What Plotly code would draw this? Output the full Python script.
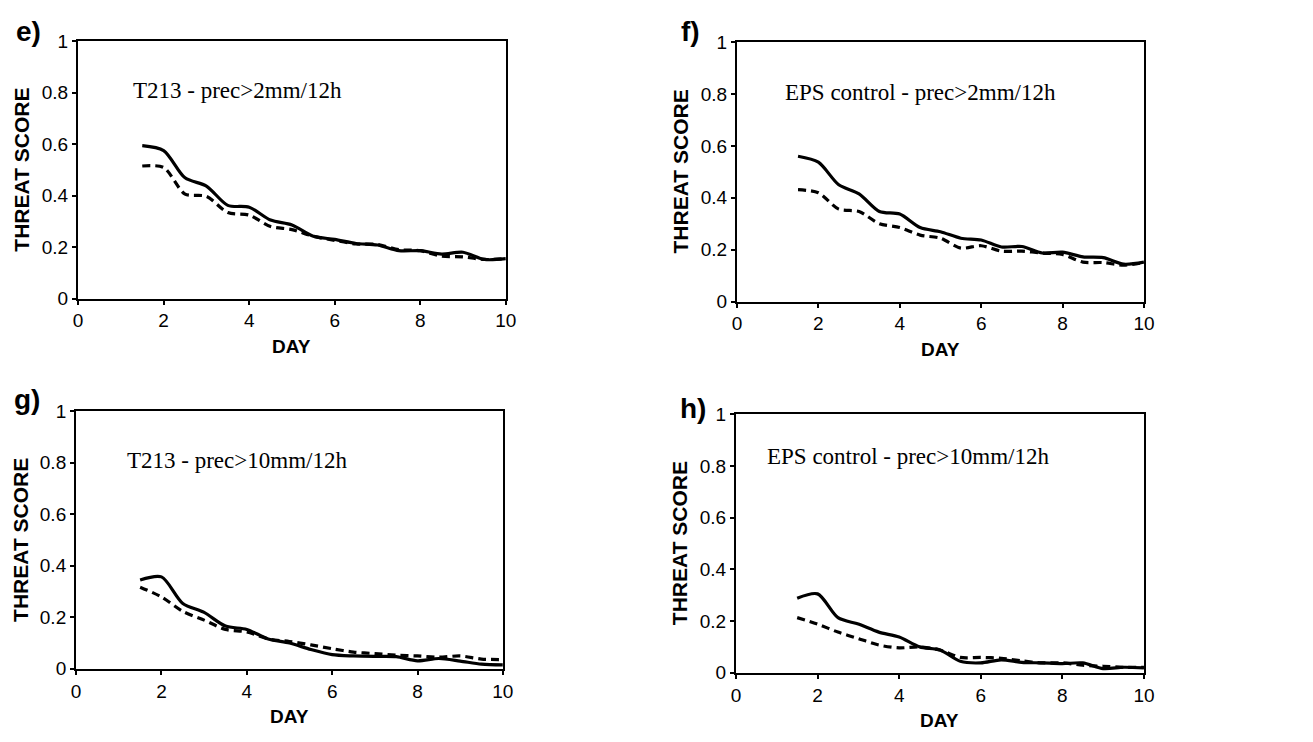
import plotly.graph_objects as go

days = [1.5, 2.0, 2.5, 3.0, 3.5, 4.0, 4.5, 5.0, 5.5, 6.0, 6.5, 7.0, 7.5, 8.0, 8.5, 9.0, 9.5, 10.0]

e_solid = [0.594, 0.575, 0.469, 0.437, 0.362, 0.355, 0.305, 0.286, 0.242, 0.230, 0.214, 0.208, 0.186, 0.186, 0.173, 0.180, 0.152, 0.155]
e_dash = [0.515, 0.509, 0.406, 0.397, 0.334, 0.324, 0.280, 0.268, 0.242, 0.226, 0.212, 0.210, 0.190, 0.186, 0.165, 0.162, 0.152, 0.155]

f_solid = [0.560, 0.537, 0.450, 0.415, 0.347, 0.337, 0.285, 0.269, 0.244, 0.237, 0.210, 0.212, 0.187, 0.190, 0.172, 0.169, 0.144, 0.152]
f_dash = [0.431, 0.419, 0.356, 0.347, 0.300, 0.285, 0.256, 0.244, 0.206, 0.215, 0.194, 0.194, 0.187, 0.181, 0.152, 0.150, 0.140, 0.150]

g_solid = [0.345, 0.357, 0.254, 0.219, 0.166, 0.153, 0.116, 0.100, 0.075, 0.055, 0.050, 0.048, 0.047, 0.031, 0.040, 0.030, 0.018, 0.015]
g_dash = [0.317, 0.279, 0.223, 0.189, 0.153, 0.143, 0.116, 0.106, 0.093, 0.078, 0.065, 0.059, 0.053, 0.050, 0.045, 0.050, 0.038, 0.036]

h_solid = [0.288, 0.305, 0.213, 0.188, 0.157, 0.138, 0.100, 0.088, 0.044, 0.038, 0.050, 0.040, 0.038, 0.035, 0.038, 0.016, 0.021, 0.019]
h_dash = [0.213, 0.188, 0.157, 0.132, 0.107, 0.096, 0.100, 0.088, 0.059, 0.059, 0.056, 0.046, 0.038, 0.038, 0.029, 0.025, 0.021, 0.021]

panel_letters = ["e)", "f)", "g)", "h)"]
panel_texts = ["T213 - prec>2mm/12h", "EPS control - prec>2mm/12h",
               "T213 - prec>10mm/12h", "EPS control - prec>10mm/12h"]
x_ticks = [0, 2, 4, 6, 8, 10]
y_ticks = [0, 0.2, 0.4, 0.6, 0.8, 1]
x_title = "DAY"
y_title = "THREAT SCORE"

W, H = 1313, 742

# plot areas in pixels (left, right, top, bottom)
boxes = [
    (74, 507, 32, 297),
    (741, 1153, 33, 300),
    (72, 504, 413, 678),
    (740, 1153, 416, 682),
]
text_pos = [(1.24, 0.81), (1.12, 0.805), (1.14, 0.81), (0.70, 0.835)]
letter_pos = [(24, 22), (694, 22), (22, 401), (696, 410)]

series = [(e_solid, e_dash), (f_solid, f_dash), (g_solid, g_dash), (h_solid, h_dash)]

SANS = "Liberation Sans, Arial, Helvetica, sans-serif"
SERIF = "Liberation Serif, Times New Roman, serif"

fig = go.Figure()
annotations = []
for i, (box, (sol, dsh)) in enumerate(zip(boxes, series)):
    l, r, t, b = box
    xa = "x" if i == 0 else f"x{i+1}"
    ya = "y" if i == 0 else f"y{i+1}"
    xk = "xaxis" if i == 0 else f"xaxis{i+1}"
    yk = "yaxis" if i == 0 else f"yaxis{i+1}"
    fig.add_trace(go.Scatter(x=days, y=dsh, mode="lines", xaxis=xa, yaxis=ya,
                             line=dict(color="black", width=3.2, dash="8px,5px", shape="spline", smoothing=0.8),
                             showlegend=False, hoverinfo="skip"))
    fig.add_trace(go.Scatter(x=days, y=sol, mode="lines", xaxis=xa, yaxis=ya,
                             line=dict(color="black", width=3.2, shape="spline", smoothing=0.8),
                             showlegend=False, hoverinfo="skip"))
    common = dict(showgrid=False, zeroline=False, showline=True, linecolor="black", linewidth=2.2,
                  mirror=True, ticks="outside", ticklen=4, tickwidth=1.5, tickcolor="black",
                  tickfont=dict(family=SANS, size=19, color="black"))
    fig.update_layout({
        xk: dict(domain=[l / W, r / W], anchor=ya, range=[0, 10], tickvals=x_ticks, **common),
        yk: dict(domain=[1 - b / H, 1 - t / H], anchor=xa, range=[0, 1], tickvals=y_ticks, **common),
    })
    # in-panel label
    annotations.append(dict(x=text_pos[i][0], y=text_pos[i][1], xref=xa, yref=ya,
                            text=panel_texts[i], showarrow=False, xanchor="left", yanchor="middle",
                            font=dict(family=SERIF, size=23, color="black")))
    # panel letter
    annotations.append(dict(x=letter_pos[i][0] / W, y=1 - letter_pos[i][1] / H, xref="paper", yref="paper",
                            text=f"<b>{panel_letters[i]}</b>", showarrow=False, xanchor="center", yanchor="middle",
                            font=dict(family=SANS, size=28, color="black")))
    # x title
    annotations.append(dict(x=(l + r) / 2 / W, y=1 - (b + 49) / H, xref="paper", yref="paper",
                            text=f"<b>{x_title}</b>", showarrow=False, xanchor="center", yanchor="middle",
                            font=dict(family=SANS, size=19, color="black")))
    # y title
    annotations.append(dict(x=(l - 57) / W, y=1 - (t + b) / 2 / H, xref="paper", yref="paper",
                            text=f"<b>{y_title}</b>", showarrow=False, xanchor="center", yanchor="middle",
                            textangle=-90, font=dict(family=SANS, size=21, color="black")))

fig.update_layout(width=W, height=H, margin=dict(l=0, r=0, t=0, b=0),
                  paper_bgcolor="white", plot_bgcolor="white",
                  annotations=annotations, showlegend=False)

fig.write_html("out.html")
